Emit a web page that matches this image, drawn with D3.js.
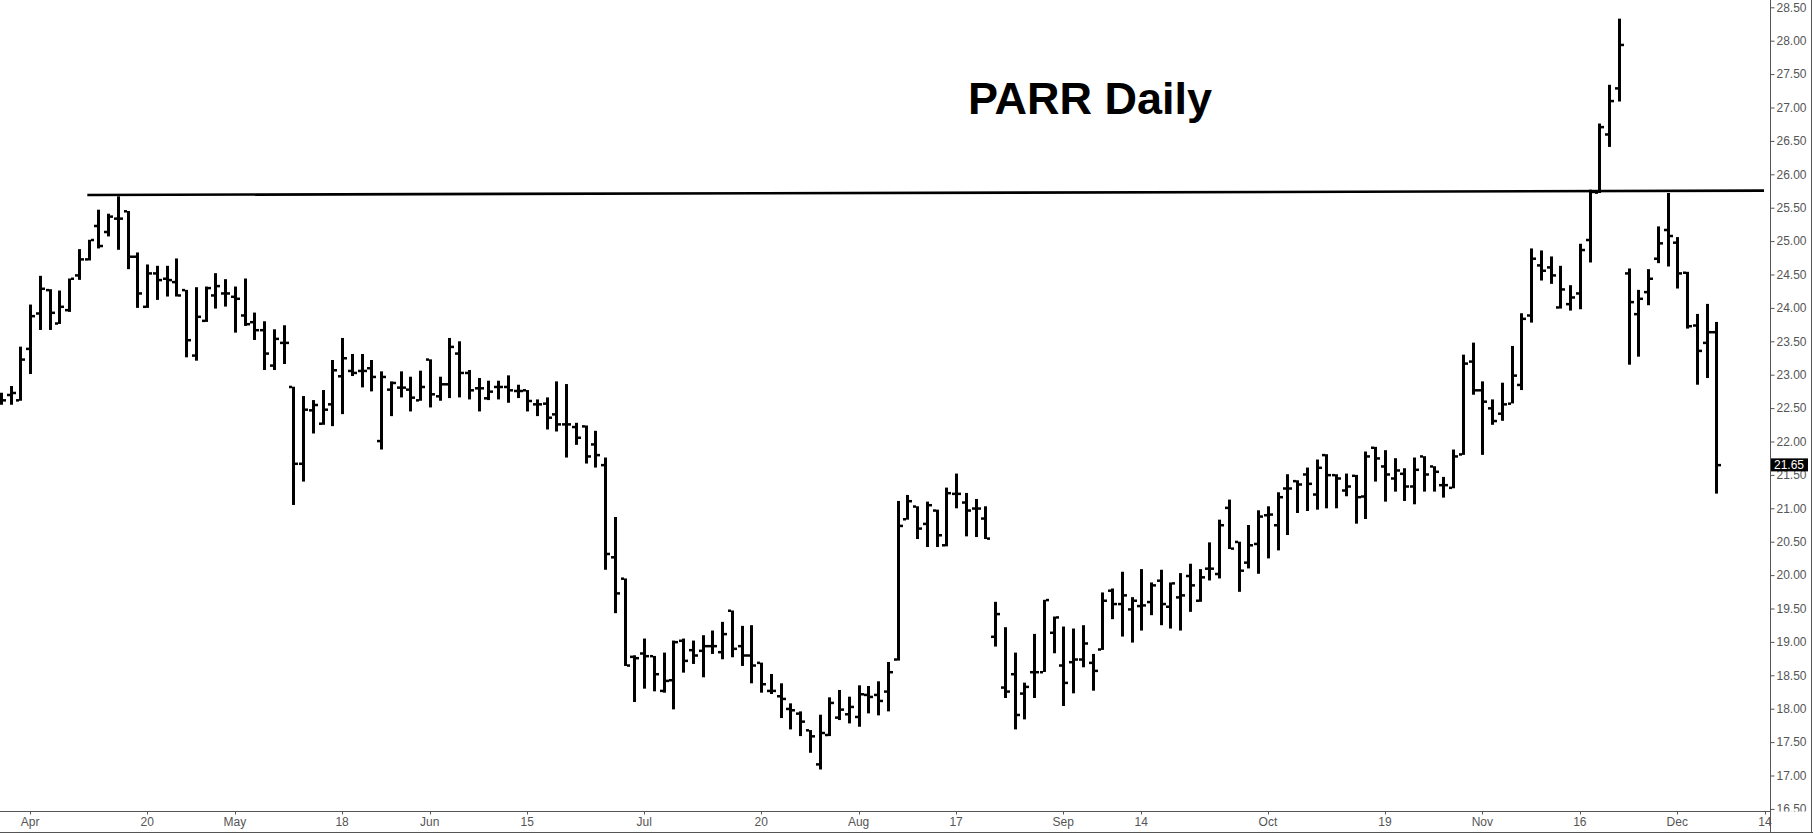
<!DOCTYPE html>
<html><head><meta charset="utf-8">
<script src="https://cdn.jsdelivr.net/npm/d3@7"></script>
<style>html,body{margin:0;padding:0;background:#fff;overflow:hidden}</style>
</head><body><svg id="c" width="1813" height="833"></svg>
<script>
const title = "PARR Daily";
const tradingDays = [
"2015-03-27","2015-03-30","2015-03-31",
"2015-04-01","2015-04-02","2015-04-06","2015-04-07","2015-04-08","2015-04-09","2015-04-10","2015-04-13","2015-04-14","2015-04-15","2015-04-16","2015-04-17","2015-04-20","2015-04-21","2015-04-22","2015-04-23","2015-04-24","2015-04-27","2015-04-28","2015-04-29","2015-04-30",
"2015-05-01","2015-05-04","2015-05-05","2015-05-06","2015-05-07","2015-05-08","2015-05-11","2015-05-12","2015-05-13","2015-05-14","2015-05-15","2015-05-18","2015-05-19","2015-05-20","2015-05-21","2015-05-22","2015-05-26","2015-05-27","2015-05-28","2015-05-29",
"2015-06-01","2015-06-02","2015-06-03","2015-06-04","2015-06-05","2015-06-08","2015-06-09","2015-06-10","2015-06-11","2015-06-12","2015-06-15","2015-06-16","2015-06-17","2015-06-18","2015-06-19","2015-06-22","2015-06-23","2015-06-24","2015-06-25","2015-06-26","2015-06-29","2015-06-30",
"2015-07-01","2015-07-02","2015-07-06","2015-07-07","2015-07-08","2015-07-09","2015-07-10","2015-07-13","2015-07-14","2015-07-15","2015-07-16","2015-07-17","2015-07-20","2015-07-21","2015-07-22","2015-07-23","2015-07-24","2015-07-27","2015-07-28","2015-07-29","2015-07-30","2015-07-31",
"2015-08-03","2015-08-04","2015-08-05","2015-08-06","2015-08-07","2015-08-10","2015-08-11","2015-08-12","2015-08-13","2015-08-14","2015-08-17","2015-08-18","2015-08-19","2015-08-20","2015-08-21","2015-08-24","2015-08-25","2015-08-26","2015-08-27","2015-08-28","2015-08-31",
"2015-09-01","2015-09-02","2015-09-03","2015-09-04","2015-09-08","2015-09-09","2015-09-10","2015-09-11","2015-09-14","2015-09-15","2015-09-16","2015-09-17","2015-09-18","2015-09-21","2015-09-22","2015-09-23","2015-09-24","2015-09-25","2015-09-28","2015-09-29","2015-09-30",
"2015-10-01","2015-10-02","2015-10-05","2015-10-06","2015-10-07","2015-10-08","2015-10-09","2015-10-12","2015-10-13","2015-10-14","2015-10-15","2015-10-16","2015-10-19","2015-10-20","2015-10-21","2015-10-22","2015-10-23","2015-10-26","2015-10-27","2015-10-28","2015-10-29","2015-10-30",
"2015-11-02","2015-11-03","2015-11-04","2015-11-05","2015-11-06","2015-11-09","2015-11-10","2015-11-11","2015-11-12","2015-11-13","2015-11-16","2015-11-17","2015-11-18","2015-11-19","2015-11-20","2015-11-23","2015-11-24","2015-11-25","2015-11-27","2015-11-30",
"2015-12-01","2015-12-02","2015-12-03","2015-12-04","2015-12-07","2015-12-08","2015-12-09","2015-12-10","2015-12-11","2015-12-14"
];

const openPrices = [
22.60,22.70,22.62,
23.39,23.92,24.27,23.77,23.97,24.49,24.73,25.23,25.14,25.34,
25.45,24.77,24.02,24.52,24.44,24.39,24.27,23.29,23.81,24.19,
24.22,24.17,23.89,23.79,23.67,23.14,23.48,22.82,21.67,22.47,
22.27,22.56,22.98,23.06,23.06,23.10,22.01,22.78,22.81,22.78,
22.62,23.23,22.68,22.86,23.32,23.03,22.80,22.65,22.82,22.82,
22.76,22.77,22.56,22.57,22.41,22.26,22.22,22.23,21.96,21.65,
20.27,19.95,18.78,18.83,18.79,18.27,18.43,19.02,18.88,18.87,
18.94,18.85,19.47,18.94,18.80,18.69,18.27,18.19,18.00,17.93,
17.68,17.17,17.61,17.87,17.92,17.88,18.21,18.21,18.26,18.74,
20.84,21.03,20.77,20.97,20.45,21.22,21.09,21.00,20.85,19.08,
18.32,18.52,18.23,18.55,18.55,19.14,18.65,18.70,18.74,18.69,
18.89,19.77,19.57,19.49,19.54,19.60,19.92,19.53,19.67,19.99,
19.62,20.10,20.02,21.01,20.50,20.19,20.47,20.90,20.75,21.30,
21.41,21.51,21.21,21.80,21.50,21.27,21.49,21.18,21.91,21.63,
21.45,21.52,21.33,21.78,21.63,21.35,21.31,21.81,23.20,22.77,
22.50,22.42,22.57,22.85,23.89,24.64,24.61,24.01,24.06,24.22,
25.02,25.73,26.60,27.29,24.52,23.91,24.24,24.74,25.17,24.98,
24.53,23.74,23.48,23.64];

const highPrices = [
22.73,22.83,23.42,
24.05,24.48,24.28,24.26,24.44,24.88,25.02,25.47,25.41,25.67,
25.45,24.83,24.65,24.63,24.63,24.74,24.27,24.31,24.32,24.52,
24.43,24.32,24.44,23.93,23.80,23.68,23.74,22.82,22.68,22.62,
22.77,23.22,23.55,23.31,23.31,23.22,23.05,22.90,23.05,22.97,
23.06,23.23,22.97,23.55,23.50,23.07,22.95,22.91,22.91,22.99,
22.85,22.77,22.63,22.66,22.90,22.86,22.28,22.24,22.16,21.76,
20.87,19.95,18.80,19.05,18.79,18.84,19.02,19.05,19.02,19.10,
19.17,19.30,19.47,19.24,19.25,18.69,18.52,18.38,18.08,17.96,
17.68,17.91,18.17,18.28,18.18,18.35,18.34,18.41,18.70,21.11,
21.20,21.03,21.10,20.98,21.31,21.52,21.23,21.14,21.03,19.60,
19.22,18.84,18.39,19.12,19.63,19.38,19.23,19.20,19.25,18.82,
19.74,19.80,20.05,19.67,20.09,19.89,20.08,19.89,20.03,20.17,
20.09,20.49,20.83,21.13,20.50,20.75,20.97,21.03,21.24,21.51,
21.42,21.61,21.73,21.81,21.51,21.52,21.50,21.85,21.92,21.87,
21.75,21.60,21.76,21.78,21.63,21.47,21.88,23.30,23.48,22.90,
22.63,22.88,23.43,23.92,24.89,24.86,24.77,24.63,24.34,24.96,
25.77,26.76,27.34,28.33,24.59,24.27,24.58,25.22,25.72,25.06,
24.54,23.91,24.06,23.79];

const lowPrices = [
22.55,22.55,22.61,
23.01,23.67,23.67,23.76,23.94,24.42,24.71,24.89,25.07,24.87,
24.58,24.00,24.00,24.12,24.17,24.17,23.26,23.21,23.79,23.99,
24.02,23.63,23.73,23.52,23.07,23.07,23.16,21.05,21.40,22.12,
22.25,22.23,22.41,22.98,22.81,22.75,21.88,22.38,22.66,22.45,
22.61,22.51,22.61,22.65,22.66,22.63,22.45,22.62,22.63,22.58,
22.65,22.45,22.38,22.18,22.15,21.76,21.95,21.67,21.61,20.08,
19.43,18.64,18.10,18.30,18.26,18.24,17.99,18.54,18.67,18.47,
18.82,18.74,18.77,18.64,18.38,18.24,18.22,17.86,17.69,17.59,
17.34,17.09,17.59,17.83,17.78,17.73,17.93,17.90,17.96,18.72,
20.83,20.54,20.42,20.42,20.43,21.00,20.58,20.57,20.54,18.93,
18.16,17.69,17.84,18.16,18.55,18.83,18.04,18.23,18.62,18.27,
18.88,19.34,19.08,18.99,19.17,19.40,19.25,19.20,19.17,19.45,
19.60,19.92,19.95,20.39,19.75,20.10,20.02,20.25,20.37,20.60,
20.93,20.96,20.98,21.00,21.00,21.18,20.77,20.84,21.40,21.10,
21.25,21.11,21.06,21.25,21.25,21.16,21.30,21.80,22.70,21.80,
22.25,22.31,22.57,22.77,23.78,24.41,24.36,23.99,23.96,23.98,
24.68,25.72,26.41,27.09,23.15,23.27,24.04,24.67,24.62,24.29,
23.69,22.85,22.95,21.22];

const closePrices = [
22.62,22.73,23.23,
23.88,24.29,23.93,24.02,24.44,24.73,25.02,24.93,25.37,25.34,
24.77,24.22,24.52,24.42,24.42,24.19,23.52,23.87,24.30,24.33,
24.22,24.14,23.76,23.67,23.32,23.54,23.48,21.67,22.48,22.55,
22.48,23.07,23.25,23.03,23.06,22.97,22.97,22.88,22.81,22.66,
22.82,22.71,22.86,23.42,23.03,22.77,22.80,22.75,22.82,22.77,
22.76,22.61,22.56,22.36,22.26,22.26,22.06,21.78,21.80,20.32,
19.73,18.65,18.76,18.79,18.52,18.42,19.00,18.72,18.80,18.94,
18.94,19.12,18.90,18.80,18.65,18.37,18.27,18.15,17.98,17.81,
17.59,17.64,18.09,17.99,18.03,18.22,18.18,18.12,18.55,20.74,
21.11,20.70,21.05,20.60,21.23,21.22,20.97,21.00,20.55,19.42,
18.26,17.91,18.33,18.55,19.63,19.37,18.39,18.74,18.98,18.57,
19.62,19.57,19.70,19.62,19.55,19.85,19.57,19.88,19.70,19.85,
19.97,20.10,20.75,20.40,20.07,20.45,20.88,20.91,21.17,21.30,
21.36,21.37,21.61,21.50,21.45,21.33,21.17,21.78,21.75,21.51,
21.57,21.33,21.58,21.51,21.55,21.35,21.78,23.17,22.77,22.60,
22.31,22.56,22.99,23.84,24.74,24.56,24.49,24.28,24.16,24.87,
25.74,26.71,27.10,27.94,24.09,24.14,24.44,24.97,25.08,24.52,
23.73,23.36,23.64,21.65];

const tickDays = ["2015-04-01","2015-04-20","2015-05-01","2015-05-18","2015-06-01","2015-06-15","2015-07-01","2015-07-20","2015-08-03","2015-08-17","2015-09-01","2015-09-14","2015-10-01","2015-10-19","2015-11-02","2015-11-16","2015-12-01","2015-12-14"];
const tickLabels = ["Apr","20","May","18","Jun","15","Jul","20","Aug","17","Sep","14","Oct","19","Nov","16","Dec","14"];
const priceTicks = [16.5,17,17.5,18,18.5,19,19.5,20,20.5,21,21.5,22,22.5,23,23.5,24,24.5,25,25.5,26,26.5,27,27.5,28,28.5];
const lastPrice = 21.65;
// resistance line: [day position (index into tradingDays), price]
const resistanceLine = [[8.86, 25.69], [180.9, 25.755]];

const W = 1813, H = 833;
const plotRight = 1770, axisY = 811.5;
const svg = d3.select("#c");
svg.append("rect").attr("width", W).attr("height", H).attr("fill", "#fff");

const x = d3.scalePoint().domain(tradingDays).range([0.96, 1765.0]);
const xi = d3.scaleLinear().domain([0, tradingDays.length - 1]).range([0.96, 1765.0]);
const y = d3.scaleLinear().domain([16.5, 28.5]).range([808.9, 7.3]);

const defs = svg.append("defs");
defs.append("clipPath").attr("id", "plot").append("rect").attr("x", 0).attr("y", 0).attr("width", plotRight).attr("height", axisY);
defs.append("clipPath").attr("id", "yax").append("rect").attr("x", plotRight).attr("y", 0).attr("width", W - plotRight).attr("height", axisY);

const bars = openPrices.map((o, i) => ({day: tradingDays[i], o, h: highPrices[i], l: lowPrices[i], c: closePrices[i]}));

const plot = svg.append("g").attr("clip-path", "url(#plot)");
const g = plot.selectAll("g.bar").data(bars).join("g").attr("class", "bar");
g.append("rect").attr("x", d => Math.round(x(d.day)) - 1).attr("width", 3)
  .attr("y", d => y(d.h)).attr("height", d => Math.max(1, y(d.l) - y(d.h))).attr("fill", "#000");
g.append("rect").attr("x", d => Math.round(x(d.day)) - 4).attr("width", 3)
  .attr("y", d => y(d.o) - 1).attr("height", 2.5).attr("fill", "#000");
g.append("rect").attr("x", d => Math.round(x(d.day)) + 2).attr("width", 3)
  .attr("y", d => y(d.c) - 1).attr("height", 2.5).attr("fill", "#000");

// resistance line
plot.append("line")
  .attr("x1", xi(resistanceLine[0][0])).attr("y1", y(resistanceLine[0][1]))
  .attr("x2", xi(resistanceLine[1][0])).attr("y2", y(resistanceLine[1][1]))
  .attr("stroke", "#000").attr("stroke-width", 2.6);

// title
svg.append("text").attr("x", 1090).attr("y", 114).attr("text-anchor", "middle")
  .attr("font-family", "'Liberation Sans', Arial, sans-serif").attr("font-weight", "bold")
  .attr("font-size", 45).attr("fill", "#000").text(title);

// x axis
const axisColor = "#555";
svg.append("line").attr("x1", 0).attr("x2", plotRight).attr("y1", axisY).attr("y2", axisY).attr("stroke", axisColor);
const xa = svg.append("g");
xa.selectAll("line").data(tickDays).join("line")
  .attr("x1", d => Math.round(x(d)) + 0.5).attr("x2", d => Math.round(x(d)) + 0.5)
  .attr("y1", axisY).attr("y2", axisY + 3).attr("stroke", axisColor);
xa.selectAll("text").data(tickDays).join("text")
  .attr("x", d => x(d)).attr("y", 826).attr("text-anchor", "middle")
  .attr("font-family", "'Liberation Sans', Arial, sans-serif").attr("font-size", 12).attr("fill", axisColor)
  .text((d, i) => tickLabels[i]);

// y axis
const ya = svg.append("g").attr("clip-path", "url(#yax)").append("g").attr("transform", `translate(${plotRight + 0.5},0)`)
  .call(d3.axisRight(y).tickValues(priceTicks).tickSize(4).tickPadding(2).tickFormat(d3.format(".2f")));
ya.select(".domain").remove();
ya.selectAll("line").attr("stroke", axisColor);
ya.selectAll("text").attr("font-family", "'Liberation Sans', Arial, sans-serif").attr("font-size", 12).attr("fill", axisColor);

svg.append("line").attr("x1", plotRight + 0.5).attr("x2", plotRight + 0.5).attr("y1", 0).attr("y2", H).attr("stroke", axisColor);
// frame
svg.append("line").attr("x1", W - 1.5).attr("x2", W - 1.5).attr("y1", 0).attr("y2", H).attr("stroke", axisColor);
svg.append("line").attr("x1", 0).attr("x2", W).attr("y1", H - 0.5).attr("y2", H - 0.5).attr("stroke", axisColor);

// last price marker (drawn over the neighbouring tick label, as in the reference)
const lp = svg.append("g");
lp.append("rect").attr("x", plotRight + 1).attr("y", y(lastPrice) - 6.5).attr("width", 37).attr("height", 13).attr("fill", "#000");
lp.append("text").attr("x", plotRight + 4).attr("y", y(lastPrice)).attr("dy", "0.35em")
  .attr("font-family", "'Liberation Sans', Arial, sans-serif").attr("font-size", 12).attr("fill", "#fff")
  .text(d3.format(".2f")(lastPrice));
</script></body></html>
